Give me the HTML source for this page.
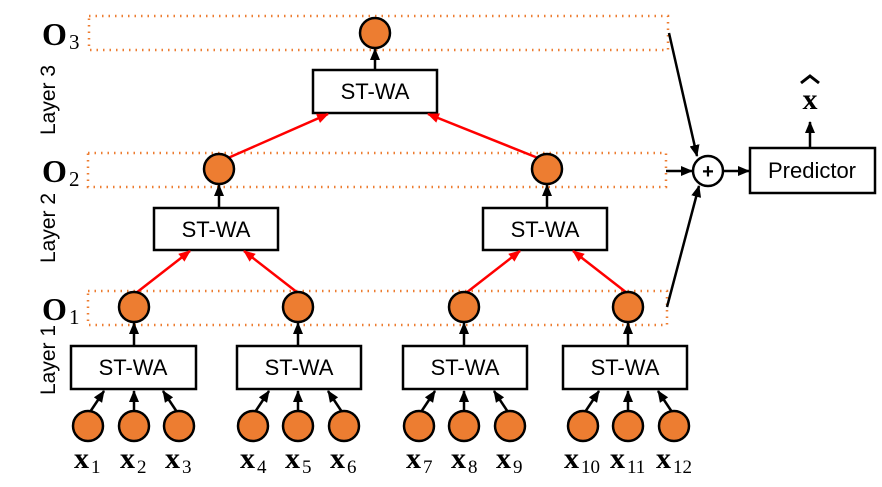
<!DOCTYPE html>
<html><head><meta charset="utf-8"><style>body{margin:0;background:#fff}</style></head><body>
<svg width="882" height="482" viewBox="0 0 882 482" xmlns="http://www.w3.org/2000/svg">
<defs>
<marker id="ar" markerWidth="12" markerHeight="10" refX="11" refY="5" orient="auto" markerUnits="userSpaceOnUse"><path d="M0,0L12,5L0,10z" fill="#f00"/></marker>
<marker id="ak" markerWidth="12" markerHeight="10" refX="11" refY="5" orient="auto" markerUnits="userSpaceOnUse"><path d="M0,0L12,5L0,10z" fill="#000"/></marker>
</defs>
<g fill="none" stroke="#ed7d31" stroke-width="2.5" stroke-dasharray="1.5,5">
<rect x="89" y="16" width="579" height="34"/>
<rect x="88" y="153" width="578" height="34"/>
<rect x="88" y="291" width="579" height="34"/>
</g>
<g font-family="Liberation Sans, sans-serif" font-size="21" fill="#000">
<text transform="translate(55,100) rotate(-90)" text-anchor="middle">Layer 3</text>
<text transform="translate(55,228) rotate(-90)" text-anchor="middle">Layer 2</text>
<text transform="translate(55,360) rotate(-90)" text-anchor="middle">Layer 1</text>
</g>
<g font-family="Liberation Serif, serif" fill="#000">
<text x="42" y="45" font-size="32" font-weight="bold">O</text><text x="69" y="49" font-size="21">3</text>
<text x="42" y="182" font-size="32" font-weight="bold">O</text><text x="69" y="186" font-size="21">2</text>
<text x="42" y="320" font-size="32" font-weight="bold">O</text><text x="69" y="324" font-size="21">1</text>
</g>
<g stroke="#000" stroke-width="2.5" fill="#fff">
<rect x="313" y="70" width="124" height="43"/>
<rect x="154" y="208" width="124" height="42"/>
<rect x="483" y="208" width="124" height="42"/>
<rect x="71" y="346" width="125" height="43"/>
<rect x="237" y="346" width="124" height="43"/>
<rect x="403" y="346" width="124" height="43"/>
<rect x="563" y="346" width="124" height="43"/>
<rect x="750" y="148" width="125" height="45"/>
</g>
<g font-family="Liberation Sans, sans-serif" font-size="22" text-anchor="middle" fill="#000">
<text x="375" y="99">ST-WA</text>
<text x="216" y="237">ST-WA</text>
<text x="545" y="237">ST-WA</text>
<text x="133" y="375">ST-WA</text>
<text x="299" y="375">ST-WA</text>
<text x="465" y="375">ST-WA</text>
<text x="625" y="375">ST-WA</text>
<text x="812" y="178">Predictor</text>
</g>
<g stroke="#f00" stroke-width="2.5" marker-end="url(#ar)">
<line x1="228" y1="158" x2="328" y2="114"/>
<line x1="538" y1="158" x2="428" y2="114"/>
<line x1="136" y1="293" x2="190" y2="251"/>
<line x1="298" y1="293" x2="244" y2="251"/>
<line x1="466" y1="293" x2="520" y2="251"/>
<line x1="627" y1="293" x2="573" y2="251"/>
</g>
<g stroke="#000" stroke-width="2.5" marker-end="url(#ak)">
<line x1="375" y1="70" x2="375" y2="49"/>
<line x1="219" y1="208" x2="219" y2="185"/>
<line x1="547" y1="208" x2="547" y2="185"/>
<line x1="134" y1="346" x2="134" y2="323"/>
<line x1="298" y1="346" x2="298" y2="323"/>
<line x1="464" y1="346" x2="464" y2="323"/>
<line x1="628" y1="346" x2="628" y2="323"/>
<line x1="669" y1="33" x2="697" y2="156"/>
<line x1="666" y1="171" x2="692" y2="171"/>
<line x1="667" y1="307" x2="699" y2="186"/>
<line x1="724" y1="171" x2="749" y2="171"/>
<line x1="810" y1="148" x2="810" y2="122"/>
</g>
<g stroke="#000" stroke-width="2.5" marker-end="url(#ak)">
<line x1="90" y1="412" x2="104" y2="391"/><line x1="134" y1="411" x2="134" y2="391"/><line x1="177" y1="412" x2="163" y2="391"/>
<line x1="255" y1="412" x2="269" y2="391"/><line x1="298" y1="411" x2="298" y2="391"/><line x1="342" y1="412" x2="328" y2="391"/>
<line x1="421" y1="412" x2="435" y2="391"/><line x1="464" y1="411" x2="464" y2="391"/><line x1="508" y1="412" x2="494" y2="391"/>
<line x1="585" y1="412" x2="599" y2="391"/><line x1="628" y1="411" x2="628" y2="391"/><line x1="672" y1="412" x2="658" y2="391"/>
</g>
<g fill="#ed7d31" stroke="#000" stroke-width="2.5">
<circle cx="375" cy="33" r="15"/>
<circle cx="219" cy="169" r="15"/><circle cx="547" cy="169" r="15"/>
<circle cx="134" cy="307" r="15"/><circle cx="298" cy="307" r="15"/><circle cx="464" cy="307" r="15"/><circle cx="628" cy="307" r="15"/>
<circle cx="88" cy="426" r="15"/><circle cx="134" cy="426" r="15"/><circle cx="179" cy="426" r="15"/>
<circle cx="253" cy="426" r="15"/><circle cx="298" cy="426" r="15"/><circle cx="344" cy="426" r="15"/>
<circle cx="419" cy="426" r="15"/><circle cx="464" cy="426" r="15"/><circle cx="510" cy="426" r="15"/>
<circle cx="583" cy="426" r="15"/><circle cx="628" cy="426" r="15"/><circle cx="674" cy="426" r="15"/>
</g>
<circle cx="708" cy="171" r="15" fill="#fff" stroke="#000" stroke-width="2.5"/>
<text x="708" y="178" font-family="Liberation Sans, sans-serif" font-size="20" font-weight="bold" text-anchor="middle">+</text>
<g font-family="Liberation Serif, serif" fill="#000">
<text x="810" y="109" font-size="30" font-weight="bold" text-anchor="middle">x</text>
<path d="M801,83 L810,76 L819,83" stroke="#000" stroke-width="3" fill="none"/>
</g>
<g font-family="Liberation Serif, serif" fill="#000" font-size="30" font-weight="bold">
<text x="74" y="468">x</text><text x="120" y="468">x</text><text x="165" y="468">x</text>
<text x="240" y="468">x</text><text x="285" y="468">x</text><text x="330" y="468">x</text>
<text x="406" y="468">x</text><text x="451" y="468">x</text><text x="496" y="468">x</text>
<text x="564" y="468">x</text><text x="610" y="468">x</text><text x="656" y="468">x</text>
</g>
<g font-family="Liberation Serif, serif" fill="#000" font-size="19">
<text x="91" y="473">1</text><text x="137" y="473">2</text><text x="182" y="473">3</text>
<text x="257" y="473">4</text><text x="302" y="473">5</text><text x="347" y="473">6</text>
<text x="423" y="473">7</text><text x="468" y="473">8</text><text x="513" y="473">9</text>
<text x="581" y="473">10</text><text x="627" y="473">11</text><text x="673" y="473">12</text>
</g>
</svg>
</body></html>
